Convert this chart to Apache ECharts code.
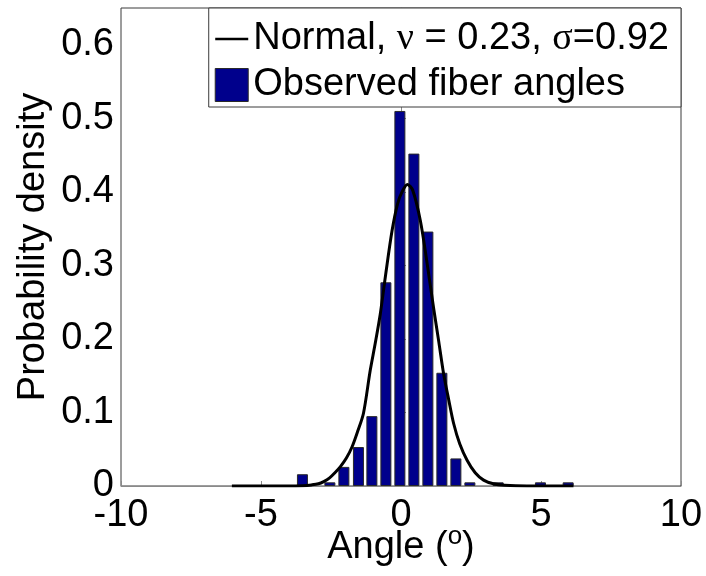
<!DOCTYPE html>
<html>
<head>
<meta charset="utf-8">
<script src="https://cdn.jsdelivr.net/npm/echarts@6/dist/echarts.min.js"></script>
<style>
  html, body { margin: 0; padding: 0; background: #fff; }
  #chart { width: 706px; height: 576px; }
</style>
</head>
<body>
<div id="chart"></div>
<script>
// Histogram bin centres (degrees) and observed densities
const binCenters = [-3.52, -2.54, -2.04, -1.52, -1.04, -0.54, -0.04, 0.46, 0.96, 1.46, 1.96, 2.46, 3.47, 4.98, 5.97];
const binDensity = [0.016, 0.005, 0.026, 0.053, 0.095, 0.277, 0.510, 0.452, 0.346, 0.154, 0.0375, 0.005, 0.005, 0.005, 0.005];

// Fitted normal curve, sampled points (angle, density)
const curveX = [-6.04, -5.0, -4.0, -3.5, -3.2, -2.95, -2.76, -2.55, -2.36, -2.17, -1.95, -1.75, -1.55, -1.34, -1.10, -0.92, -0.74, -0.55, -0.32, -0.12, 0.05, 0.23, 0.42, 0.69, 0.92, 1.16, 1.35, 1.52, 1.70, 1.88, 2.10, 2.36, 2.65, 2.95, 3.3, 3.7, 4.5, 5.5, 6.16];
const curveY = [0.0, 0.0, 0.0, 0.0005, 0.0015, 0.003, 0.006, 0.011, 0.018, 0.026, 0.038, 0.053, 0.074, 0.099, 0.157, 0.194, 0.234, 0.287, 0.347, 0.384, 0.401, 0.410, 0.402, 0.361, 0.306, 0.243, 0.196, 0.153, 0.118, 0.085, 0.057, 0.035, 0.018, 0.008, 0.003, 0.001, 0.0, 0.0, 0.0];

const xTicks = [-10, -5, 0, 5, 10];
const yTicks = [0, 0.1, 0.2, 0.3, 0.4, 0.5, 0.6];

const curveName = 'Normal, ν = 0.23, σ=0.92';
const barName = 'Observed fiber angles';

const FONT = 'Liberation Sans';
const chart = echarts.init(document.getElementById('chart'), null, { renderer: 'canvas' });

chart.setOption({
  animation: false,
  backgroundColor: '#ffffff',
  grid: {
    left: 121, right: 25, top: 8, bottom: 90,
    outerBoundsMode: 'none',
    show: true, borderColor: '#3a3a3a', borderWidth: 1, backgroundColor: '#ffffff'
  },
  legend: {
    orient: 'vertical',
    right: 25, top: 8,
    backgroundColor: '#ffffff',
    borderColor: '#3a3a3a', borderWidth: 1,
    padding: [11, 12, 2, 6],
    itemWidth: 33, itemHeight: 33, itemGap: 6,
    symbolKeepAspect: true,
    data: [
      { name: curveName, icon: 'path://M0,0 L33,0 L33,2.6 L0,2.6 Z' },
      { name: barName, icon: 'rect', itemStyle: { color: '#00008c', borderColor: '#2a2a2a', borderWidth: 1 } }
    ],
    formatter: function (name) {
      return name.replace('ν', '{g|ν}').replace('σ', '{g|σ}');
    },
    textStyle: {
      fontFamily: FONT, fontSize: 38, color: '#000', lineHeight: 40,
      rich: { g: { fontFamily: 'Liberation Serif', fontSize: 38, color: '#000', lineHeight: 40 } }
    }
  },
  xAxis: {
    type: 'value', min: -10, max: 10, interval: 5,
    name: 'Angle ({sup|o})', nameLocation: 'middle', nameGap: 38,
    nameMoveOverlap: false,
    nameTextStyle: {
      fontFamily: FONT, fontSize: 38, color: '#000',
      rich: { sup: { fontFamily: FONT, fontSize: 26, color: '#000', padding: [0, 0, 22, 0] } }
    },
    axisLine: { show: true, lineStyle: { color: '#8a8a8a', width: 1 } },
    axisTick: { show: true, inside: true, length: 5, lineStyle: { color: '#8a8a8a' } },
    axisLabel: {
      fontFamily: FONT, fontSize: 38, color: '#000', margin: 11,
      customValues: xTicks
    },
    splitLine: { show: false }
  },
  yAxis: {
    type: 'value', min: 0, max: 0.65, interval: 0.1,
    name: 'Probability density', nameLocation: 'middle', nameGap: 68,
    nameMoveOverlap: false,
    nameTextStyle: { fontFamily: FONT, fontSize: 38, color: '#000' },
    axisLine: { show: true, lineStyle: { color: '#8a8a8a', width: 1 } },
    axisTick: { show: true, inside: true, length: 5, lineStyle: { color: '#8a8a8a' }, customValues: yTicks },
    axisLabel: {
      fontFamily: FONT, fontSize: 38, color: '#000', margin: 7,
      customValues: yTicks,
      formatter: function (v) { return v === 0 ? '0' : v.toFixed(1); }
    },
    splitLine: { show: false }
  },
  series: [
    {
      name: curveName,
      type: 'line',
      data: curveX.map((x, i) => [x, curveY[i]]),
      symbol: 'none',
      smooth: 0.3,
      lineStyle: { color: '#000', width: 3 },
      itemStyle: { color: '#000' },
      z: 5
    },
    {
      name: barName,
      type: 'bar',
      data: binCenters.map((x, i) => [x, binDensity[i]]),
      barWidth: 11,
      itemStyle: { color: '#00008c', borderColor: '#2a2a2a', borderWidth: 1 },
      z: 2
    }
  ]
});
</script>
</body>
</html>
